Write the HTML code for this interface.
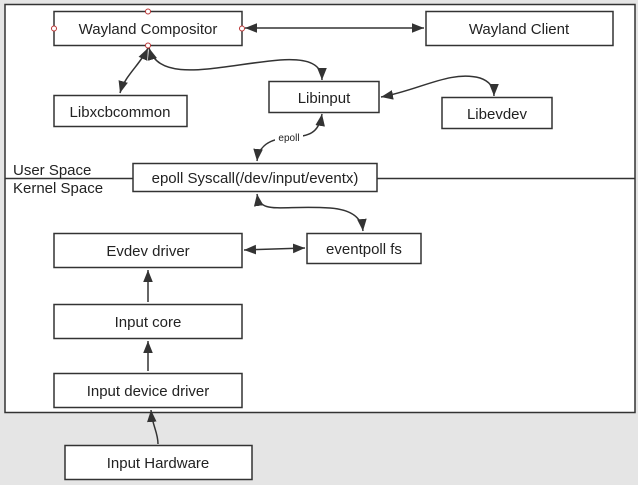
<!DOCTYPE html>
<html><head><meta charset="utf-8"><style>
html,body{margin:0;padding:0;background:#e5e5e5;}
svg{display:block;}
text{font-family:"Liberation Sans","DejaVu Sans",sans-serif;font-size:15px;fill:#222;}
</style></head><body>
<svg width="638" height="485" viewBox="0 0 638 485" xmlns="http://www.w3.org/2000/svg">
<defs>
<marker id="a" viewBox="0 0 10 10" refX="10" refY="5" markerWidth="12" markerHeight="12" markerUnits="userSpaceOnUse" orient="auto-start-reverse">
<path d="M0,1 L10,5 L0,9 Z" fill="#333"/>
</marker>
</defs>
<rect x="0" y="0" width="638" height="485" fill="#e5e5e5"/>
<rect x="5" y="4.5" width="630" height="408" fill="#fff" stroke="#333" stroke-width="1.5"/>
<line x1="5" y1="178.5" x2="635" y2="178.5" stroke="#333" stroke-width="1.5"/>
<text x="13" y="175">User Space</text>
<text x="13" y="193">Kernel Space</text>
<g fill="#fff" stroke="#333" stroke-width="1.5">
<rect x="54" y="11.5" width="188" height="34"/>
<rect x="426" y="11.5" width="187" height="34"/>
<rect x="54" y="95.5" width="133" height="31"/>
<rect x="269" y="81.5" width="110" height="31"/>
<rect x="442" y="97.5" width="110" height="31"/>
<rect x="133" y="163.5" width="244" height="28"/>
<rect x="54" y="233.5" width="188" height="34"/>
<rect x="307" y="233.5" width="114" height="30"/>
<rect x="54" y="304.5" width="188" height="34"/>
<rect x="54" y="373.5" width="188" height="34"/>
<rect x="65" y="445.5" width="187" height="34"/>
</g>
<g text-anchor="middle">
<text x="148" y="34">Wayland Compositor</text>
<text x="519" y="34">Wayland Client</text>
<text x="120" y="117">Libxcbcommon</text>
<text x="324" y="103">Libinput</text>
<text x="497" y="119">Libevdev</text>
<text x="255" y="183">epoll Syscall(/dev/input/eventx)</text>
<text x="148" y="256">Evdev driver</text>
<text x="364" y="254">eventpoll fs</text>
<text x="148" y="327">Input core</text>
<text x="148" y="396">Input device driver</text>
<text x="158" y="468">Input Hardware</text>
</g>
<g fill="none" stroke="#333" stroke-width="1.5">
<path d="M245,28 L424,28" marker-start="url(#a)" marker-end="url(#a)"/>
<path d="M148,48 C140,65 125,75 120,93" marker-start="url(#a)" marker-end="url(#a)"/>
<path d="M149,48 C160,85 220,65 280,60 C310,58 322,65 322,80" marker-start="url(#a)" marker-end="url(#a)"/>
<path d="M381,97 C420,90 450,70 480,78 C492,82 494,90 494,96" marker-start="url(#a)" marker-end="url(#a)"/>
<path d="M322,114 C318,140 300,135 285,138 C265,140 258,150 257,161" marker-start="url(#a)" marker-end="url(#a)"/>
<path d="M257,194 C260,215 280,205 330,208 C355,210 362,220 363,231" marker-start="url(#a)" marker-end="url(#a)"/>
<path d="M244,250 L305,248" marker-start="url(#a)" marker-end="url(#a)"/>
<path d="M148,302 L148,270" marker-end="url(#a)"/>
<path d="M148,371 L148,341" marker-end="url(#a)"/>
<path d="M158,444 C158,432 152,425 151,410" marker-end="url(#a)"/>
</g>
<rect x="275" y="131" width="28" height="12" fill="#fff"/>
<text x="289" y="141" text-anchor="middle" style="font-size:10px">epoll</text>
<g fill="#fff" stroke="#b33" stroke-width="1">
<circle cx="148" cy="11.5" r="2.5"/>
<circle cx="54" cy="28.5" r="2.5"/>
<circle cx="242" cy="28.5" r="2.5"/>
<circle cx="148" cy="45.5" r="2.5"/>
</g>
</svg>
</body></html>
